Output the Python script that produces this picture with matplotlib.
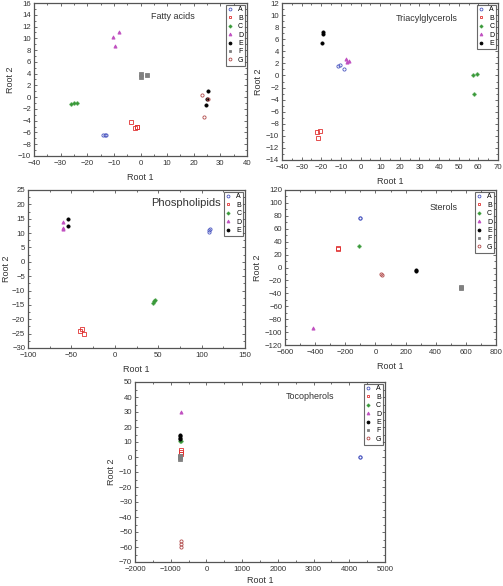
import numpy as np
import matplotlib
matplotlib.use('Agg')
import matplotlib.pyplot as plt
from matplotlib.ticker import AutoMinorLocator

plt.rcParams['font.family'] = ['Liberation Sans', 'DejaVu Sans']
plt.rcParams['font.size'] = 6

# ===== データ =====
groups = ['A', 'B', 'C', 'D', 'E', 'F', 'G']

fatty_x = {
    'A': [-14, -13.5, -13], 'B': [-3.5, -1.5, -2, -1.5], 'C': [-26, -25, -24],
    'D': [-10.5, -8, -9.5], 'E': [25.5, 25, 24.5], 'F': [0, 0.3, 2.5], 'G': [23, 25.3, 24],
}
fatty_y = {
    'A': [-6.4, -6.5, -6.5], 'B': [-4.3, -5.0, -5.3, -5.1], 'C': [-1.2, -1.0, -1.0],
    'D': [10.3, 11.0, 8.7], 'E': [1.0, -0.3, -1.4], 'F': [3.5, 3.9, 3.8], 'G': [0.4, -0.3, -3.4],
}

tag_x = {
    'A': [-11.5, -10.5, -8.5], 'B': [-22, -20.5, -21.5], 'C': [57.5, 59.5, 58],
    'D': [-7.5, -6, -7], 'E': [-19, -19, -19.5],
}
tag_y = {
    'A': [1.6, 1.7, 1.0], 'B': [-9.3, -9.2, -10.3], 'C': [0.1, 0.2, -3.1],
    'D': [2.7, 2.4, 2.3], 'E': [7.2, 6.9, 5.4],
}

phos_x = {
    'A': [108, 109, 110], 'B': [-40, -38, -36], 'C': [44, 45, 46],
    'D': [-60, -60, -59.5], 'E': [-54, -54],
}
phos_y = {
    'A': [10.5, 11, 11.3], 'B': [-24, -23.3, -25.2], 'C': [-14.3, -13.8, -13.2],
    'D': [14, 11.5, 11.9], 'E': [15, 12.6],
}

ster_x = {
    'A': [-105, -103], 'B': [-250, -248], 'C': [-107], 'D': [-413],
    'E': [270, 270], 'F': [565, 567], 'G': [40, 42],
}
ster_y = {
    'A': [76, 77], 'B': [30, 29], 'C': [33], 'D': [-93],
    'E': [-4, -6], 'F': [-31, -30], 'G': [-10, -11],
}

toco_x = {
    'A': [4300, 4310], 'B': [-720, -720, -720], 'C': [-730, -720], 'D': [-700],
    'E': [-730, -730, -730, -730], 'F': [-730, -730, -730], 'G': [-700, -700, -700],
}
toco_y = {
    'A': [0.3, 0.0], 'B': [2, 3.5, 4.5], 'C': [10.5, 11], 'D': [30],
    'E': [12, 13, 14, 14.5], 'F': [-1, 0, 0.5], 'G': [-56, -58, -60],
}

# ===== スタイル =====
styles = {
    'A': dict(marker='o', mfc='none', mec='#4a56c0'),
    'B': dict(marker='s', mfc='none', mec='#e03030'),
    'C': dict(marker='P', mfc='#3a9a3a', mec='#3a9a3a'),
    'D': dict(marker='^', mfc='#c050c0', mec='#c050c0'),
    'E': dict(marker='o', mfc='black', mec='black'),
    'F': dict(marker='s', mfc='#808080', mec='#808080'),
    'G': dict(marker='o', mfc='none', mec='#b04848'),
}

fig = plt.figure(figsize=(5.03, 5.86), dpi=100)
W, H = 503, 586


def make_ax(l, t, r, b):
    return fig.add_axes([l / W, 1 - b / H, (r - l) / W, (b - t) / H])


def panel(ax, xs, ys, title, tpos, xlim, ylim, xstep, ystep, tsize=6.5, ylpad=2, xlpad=4):
    for g in groups:
        if g not in xs:
            continue
        st = styles[g]
        ax.plot(xs[g], ys[g], linestyle='none', marker=st['marker'],
                mfc=st['mfc'], mec=st['mec'], ms=2.3, mew=0.6, label=g)
    ax.set_xlim(*xlim)
    ax.set_ylim(*ylim)
    ax.set_xticks(np.arange(xlim[0], xlim[1] + xstep / 2, xstep))
    ax.set_yticks(np.arange(ylim[0], ylim[1] + ystep / 2, ystep))
    ax.xaxis.set_minor_locator(AutoMinorLocator(2))
    ax.yaxis.set_minor_locator(AutoMinorLocator(2))
    ax.tick_params(which='both', direction='in', top=True, right=True,
                   width=0.5, labelsize=5.6, colors='#333333')
    ax.tick_params(axis='x', pad=3)
    ax.tick_params(axis='y', pad=2)
    ax.tick_params(which='major', length=2.5)
    ax.tick_params(which='minor', length=1.5)
    for s in ax.spines.values():
        s.set_linewidth(0.9)
        s.set_color('#555555')
    ax.set_xlabel('Root 1', fontsize=6.5, labelpad=xlpad, color='#333333')
    ax.set_ylabel('Root 2', fontsize=6.5, labelpad=ylpad, color='#333333')
    ax.text(tpos[0], tpos[1], title, transform=ax.transAxes, ha='center',
            va='center', fontsize=tsize, color='#333333')
    leg = ax.legend(loc='upper right', fontsize=5, frameon=True, fancybox=False,
                    handlelength=0.6, handletextpad=0.9, borderpad=0.25,
                    labelspacing=0.2, borderaxespad=0.25, markerscale=0.9)
    leg.get_frame().set_edgecolor('#444444')
    leg.get_frame().set_linewidth(0.8)


ax1 = make_ax(34, 3, 247, 156)
panel(ax1, fatty_x, fatty_y, 'Fatty acids', (0.65, 0.91), (-40, 40), (-10, 16), 10, 2)

ax2 = make_ax(282, 3, 498, 160)
panel(ax2, tag_x, tag_y, 'Triacylglycerols', (0.67, 0.9), (-40, 70), (-14, 12), 10, 2)

ax3 = make_ax(28, 190, 245, 348)
panel(ax3, phos_x, phos_y, 'Phospholipids', (0.73, 0.92), (-100, 150), (-30, 25), 50, 5,
      tsize=8, ylpad=1)

ax4 = make_ax(285, 190, 496, 345)
panel(ax4, ster_x, ster_y, 'Sterols', (0.75, 0.89), (-600, 800), (-120, 120), 200, 20)

ax5 = make_ax(135, 382, 385, 562)
panel(ax5, toco_x, toco_y, 'Tocopherols', (0.70, 0.92), (-2000, 5000), (-70, 50), 1000, 10,
      xlpad=2)

plt.savefig('out.png', dpi=100)
plt.close()
